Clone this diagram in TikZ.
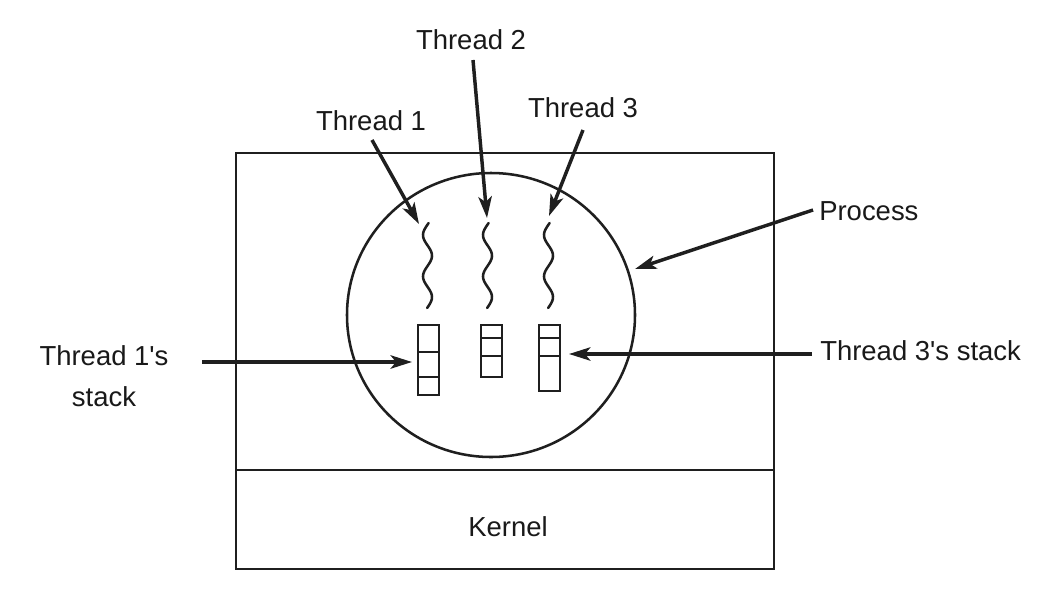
\documentclass[tikz,border=0pt]{standalone}
\usepackage{fontspec}
\setmainfont{Liberation Sans}
\usetikzlibrary{arrows.meta}
\begin{document}
\begin{tikzpicture}[x=0.75pt,y=-0.75pt,
  lbl/.style={font=\fontsize{20.6}{24}\selectfont, inner sep=0pt, text=black!90},
  frame/.style={line width=2.2pt, draw=black!88},
  proc/.style={line width=1.9pt, draw=black!88},
  cell/.style={line width=2.2pt, draw=black!88},
  wiggle/.style={line width=1.9pt, draw=black!88, line cap=round},
  pointer/.style={line width=2.6pt, draw=black!88, -{Stealth[length=16pt,width=10pt,inset=4pt]}}]
\useasboundingbox (0,0) rectangle (1040,590);
% outer box and kernel
\draw[frame] (236,153) rectangle (774,569);
\draw[frame] (236,470) -- (774,470);
\node[lbl] (kernel) at (508,527) {Kernel};
% process circle
\draw[proc] (491,315) ellipse [x radius=144, y radius=142];
% threads (squiggles)
\foreach \cx/\nm in {427.5/w1, 487.5/w2, 548.5/w3}{
  \draw[wiggle] plot[domain=223:308, samples=60, smooth] ({\cx - 4.5*cos(180*(\x-235)/20.7)}, \x);
}
% stacks
\draw[cell] (418,325) rectangle (439,395);
\draw[cell] (418,352) -- (439,352) (418,377) -- (439,377);
\draw[cell] (481,325) rectangle (502,377);
\draw[cell] (481,338) -- (502,338) (481,356) -- (502,356);
\draw[cell] (539,325) rectangle (560,391);
\draw[cell] (539,338) -- (560,338) (539,356) -- (560,356);
% labels
\node[lbl] (t1) at (371,121) {Thread 1};
\node[lbl] (t2) at (471,40) {Thread 2};
\node[lbl] (t3) at (583,108) {Thread 3};
\node[lbl, anchor=west] (pr) at (819,211) {Process};
\node[lbl, anchor=west] (s3) at (820,351) {Thread 3\textquotesingle s stack};
\node[lbl, align=center, font=\fontsize{20.6}{31}\selectfont] (s1) at (104,376) {Thread 1\textquotesingle s\\stack};
% arrow coordinates
\coordinate (t1a) at (372,140); \coordinate (t1b) at (419,224);
\coordinate (t2a) at (473,60);  \coordinate (t2b) at (487,218);
\coordinate (t3a) at (583,130); \coordinate (t3b) at (549,216);
\coordinate (pra) at (813,210); \coordinate (prb) at (635,269);
\coordinate (s3a) at (812,354); \coordinate (s3b) at (569,354);
\coordinate (s1a) at (202,362); \coordinate (s1b) at (412,362);
\draw[pointer] (t1a) -- (t1b);
\draw[pointer] (t2a) -- (t2b);
\draw[pointer] (t3a) -- (t3b);
\draw[pointer] (pra) -- (prb);
\draw[pointer] (s3a) -- (s3b);
\draw[pointer] (s1a) -- (s1b);
\end{tikzpicture}
\end{document}
